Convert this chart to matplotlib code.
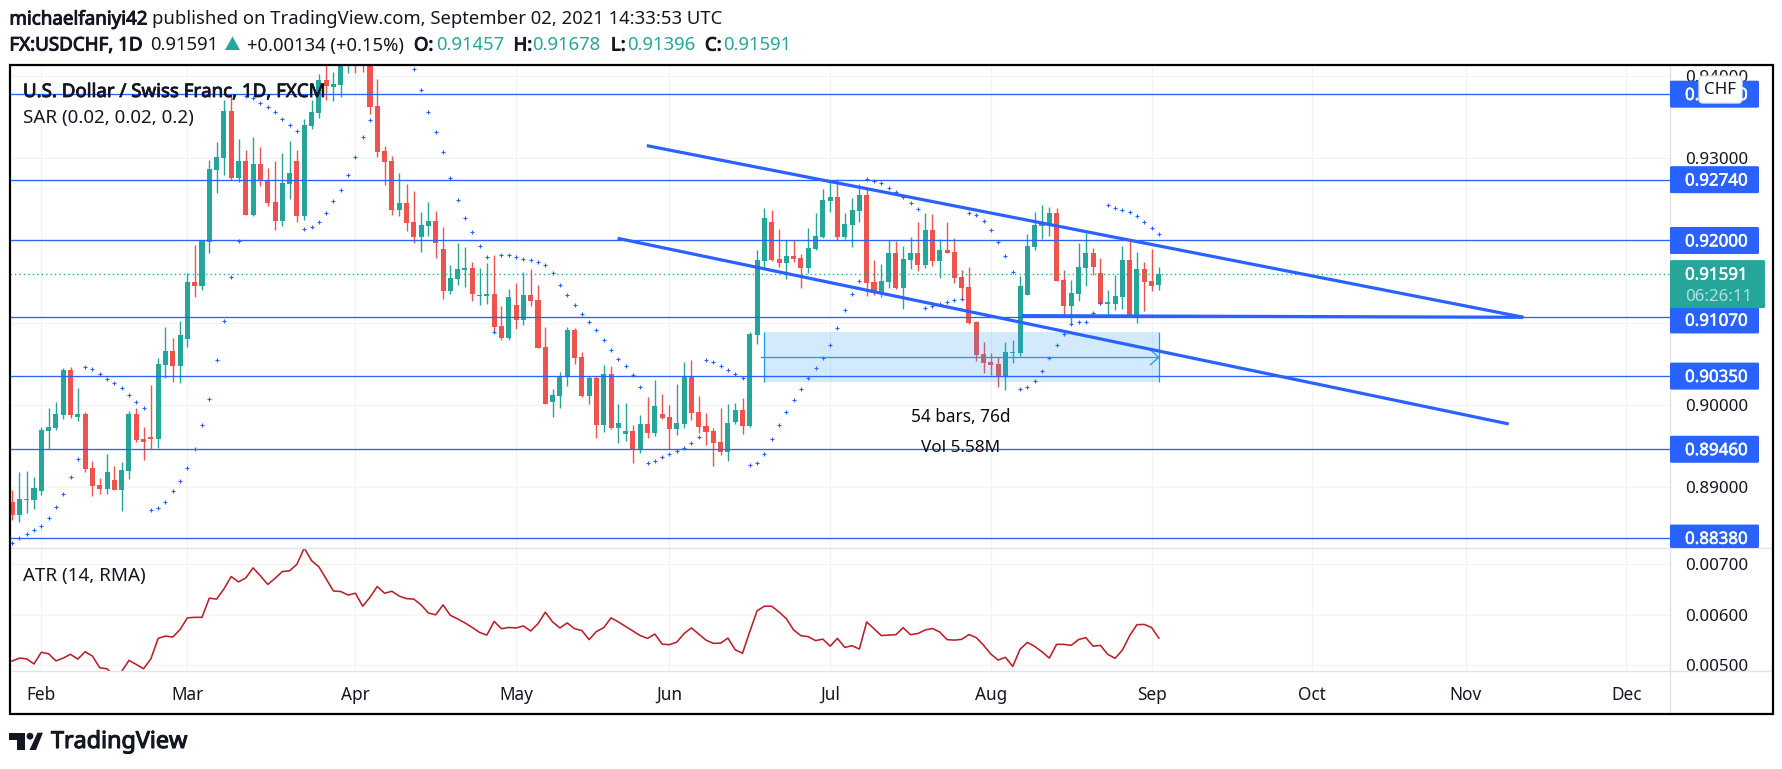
import matplotlib
matplotlib.use("Agg")
import matplotlib.pyplot as plt
import matplotlib.patheffects as pe
import numpy as np
from matplotlib.patches import Rectangle, FancyBboxPatch, Polygon, Circle

plt.rcParams['font.family'] = ['Noto Sans', 'DejaVu Sans']

# ---- data (prices in 1e-5 units) ----
first_bar = -4
opens = [88819,88661,88844,88844,88953,89683,89720,89878,90425,89854,89890,89233,89026,88978,89087,88965,89197,89890,89586,89610,
 89586,90486,90656,90474,90802,91496,91447,91982,92858,93004,93576,92761,92968,92311,92931,92737,92469,92238,92688,92968,
 92299,93393,93552,93953,93868,93892,94200,94500,94450,94250,93637,93089,92968,92372,92457,92226,92043,92177,92238,91897,
 91386,91532,91642,91666,91325,91325,91350,90960,90815,91216,91033,91338,91277,90705,90036,90109,90348,90912,90583,90109,
 90328,89756,90377,89720,89647,89683,89460,89768,89659,89890,89854,89707,89768,90340,89914,89744,89683,89549,89428,89793,
 89939,89744,90851,91751,92226,91775,91727,91812,91788,91666,91897,92043,92481,92530,92043,92189,92359,92554,91496,91362,
 91496,91849,91423,91763,91849,91702,92128,91751,91885,91861,91557,91435,91009,90620,90522,90498,90352,90632,90632,91338,
 91922,92177,92177,92335,91520,91204,91350,91666,91849,91605,91228,91228,91313,91763,91058,91654,91508,91457]
highs = [88965,89184,89197,89123,89732,89963,90036,90450,90462,90206,89914,89318,89111,89403,89257,89306,89926,89963,89732,90243,
 90571,90948,90814,91021,91605,91946,92007,92980,93199,93710,93771,93235,93102,93260,93138,92883,92968,93065,93211,93102,
 93479,93710,94026,94250,94050,94400,94600,94650,94700,94400,93965,93150,93028,92822,92688,92603,92347,92469,92359,92165,
 91703,91970,91922,91739,91666,91727,91824,91204,91411,91484,91617,91654,91459,90948,90194,90401,90948,90936,90644,90348,
 90348,90486,90474,90012,90024,89756,89878,90097,90304,90133,90000,90255,90522,90547,90109,89902,89720,89963,90012,90024,
 90085,90887,91885,92396,92372,92140,92007,92007,91836,92153,92335,92627,92737,92745,92335,92522,92688,92627,91763,91715,
 92007,91995,91934,92043,92226,92335,92323,92019,92226,92031,91642,91678,91021,90766,90632,90583,90766,90790,91569,92080,
 92347,92432,92408,92396,91642,91520,91970,92092,91909,91788,91398,91581,91934,92007,91861,91739,91897,91678]
lows = [88600,88576,88686,88734,88905,89464,89695,89829,89841,89805,89184,88892,88917,88917,88965,88710,89099,89549,89330,89464,
 89476,90328,90279,90267,90705,91313,91398,91849,92578,92797,92737,92712,92311,92299,92664,92420,92128,92177,92505,92226,
 92250,93357,93491,93710,93698,93746,94038,94038,94050,93539,93016,92676,92311,92299,92116,91970,91861,92055,91788,91289,
 91350,91459,91435,91265,91216,91228,90871,90790,90790,90924,90973,91204,90693,90012,89854,89963,90231,90498,90097,90012,
 89598,89671,89707,89537,89561,89294,89415,89598,89622,89829,89460,89634,89720,89817,89659,89513,89257,89391,89318,89768,
 89647,89732,90741,91662,91751,91678,91532,91739,91423,91605,91885,92031,92347,92003,92019,91922,92226,91325,91338,91313,
 91423,91411,91167,91654,91630,91666,91690,91544,91849,91484,91277,90985,90535,90389,90364,90218,90182,90510,90596,91338,
 91885,92019,92055,91508,91082,90985,91265,91447,91581,91216,91094,91155,91167,91070,90997,91143,91386,91396]
closes = [88661,88856,88856,88990,89695,89732,89890,90425,89878,89890,89221,89014,88978,89184,88965,89209,89890,89574,89549,89586,
 90498,90656,90474,90851,91496,91447,91995,92870,93016,93576,92761,92968,92311,92931,92724,92457,92238,92700,92822,92299,
 93406,93564,93953,93880,93904,94250,94500,94200,94250,93625,93077,92956,92372,92457,92213,92043,92189,92238,91970,91386,
 91544,91654,91666,91350,91338,91350,90948,90815,91313,91033,91338,91265,90693,90012,90121,90348,90912,90571,90109,90328,
 89756,90377,89720,89780,89683,89460,89768,89659,89987,89841,89707,89780,90348,89902,89732,89671,89537,89428,89780,89939,
 89744,90863,91763,92274,91763,91727,91812,91775,91666,91909,92055,92493,92530,92043,92201,92372,92554,91484,91362,91508,
 91849,91423,91775,91849,91702,92128,91751,91885,91849,91544,91423,90997,90608,90510,90486,90352,90644,90644,91447,91934,
 92189,92201,92335,91508,91204,91362,91678,91849,91678,91228,91252,91325,91763,91082,91654,91496,91447,91591]
sar = [88317,88377,88426,88475,88523,88621,88755,88913,89120,89338,90458,90433,90372,90312,90263,90202,90117,90032,89959,88718,
 88742,88815,88949,89071,89229,89460,89752,90068,90543,91017,91552,91990,93754,93730,93669,93621,93560,93475,93402,93329,
 92136,92161,92222,92331,92477,92611,92793,93012,93256,93462,94900,94800,94650,94500,94300,94083,93827,93560,93316,93073,
 92757,92489,92270,92100,91930,91796,90883,91820,91820,91796,91771,91759,91735,91698,91601,91455,91333,91212,91102,91005,
 90908,90786,90664,90555,90470,90360,90214,89298,89314,89363,89399,89436,89472,89533,89606,90543,90518,90470,90421,90372,
 90324,89265,89290,89399,89582,89752,89910,90056,90190,90324,90445,90567,90725,90932,91151,91346,91504,92745,92720,92696,
 92635,92586,92526,92453,92380,91175,91200,91224,91248,91273,91285,92331,92307,92234,92124,91978,91808,91613,90190,90214,
 90287,90409,90567,90725,90859,90981,91005,91005,91115,91236,92428,92392,92368,92343,92295,92222,92149,92076]
atr = [508.6,514.5,513,503,526,523,509,514.5,522,512.5,527,518.5,495.4,493.4,478,488,510,502,493.4,513,
 553.5,558,556,571,594,595,595,633,631,651,675.6,665,673,692.7,677,660,672,685.5,687,700,
 732,707,695,671,647,646,639,642.6,617,634.6,656,642.6,646.5,637,632,631,619.5,603.6,600,619.5,
 599,592,584,575,565.3,560,587,572.6,575,574,578,568,582.5,605,586,574,584,572.6,569,551,
 567,574.6,594,586,577,568,559,553.5,562,542,541,546,563,574,562,550,543.6,544,554,531,
 524,567,608,617,617,605.6,592.4,570,558.7,556.8,549,552,538,553.5,535.6,539,532.3,586,572.6,559,
 560,560.7,574.6,560.7,563,570,573,566,551,550,551.5,561,555,540,522.4,510.6,516,498,532,545.5,
 537.6,527,514.5,541.6,541.6,539.6,551,555,538,539.6,522,514,530,558.7,580.5,581,575,554]

levels = [0.9378, 0.9274, 0.9200, 0.9107, 0.9035, 0.8946, 0.8838]
level_labels = ['0.93780', '0.92740', '0.92000', '0.91070', '0.90350', '0.89460', '0.88380']
level_tag_shift = [0, 0, 0, 3, 0, 0, 0]
last_price = 0.91591

price_ticks = [0.89, 0.90, 0.91, 0.92, 0.93, 0.94]
atr_ticks = [0.005, 0.006, 0.007]
month_pos = [0, 20, 43, 65, 86, 108, 130, 152, 174, 195, 217]
month_labels = ['Feb', 'Mar', 'Apr', 'May', 'Jun', 'Jul', 'Aug', 'Sep', 'Oct', 'Nov', 'Dec']

channel_upper = ([82.9, 202.9], [0.93154, 0.91066])
channel_lower = ([78.9, 200.9], [0.92027, 0.89768])
support = ([134.2, 202.9], [0.91086, 0.91066])
range_box = (99, 153, 0.90283, 0.90891, 0.90579)

# ---- colours ----
UP, DOWN = '#26a69a', '#ef5350'
BLUE, RANGE = '#2962ff', '#2196f3'
INK, GRID, AXIS = '#131722', '#f1f2f4', '#e0e3eb'
W, H = 1783, 769

def heavy(color, w=0.55):
    return [pe.withStroke(linewidth=w, foreground=color)]

o = np.array(opens) / 1e5
h = np.array(highs) / 1e5
l = np.array(lows) / 1e5
c = np.array(closes) / 1e5
s = np.array(sar) / 1e5
a = np.array(atr) / 1e5
x = np.arange(first_bar, first_bar + len(o))

fig = plt.figure(figsize=(W / 100, H / 100), dpi=100, facecolor='white')

def axbox(x0, y0, x1, y1):
    return [x0 / W, 1 - y1 / H, (x1 - x0) / W, (y1 - y0) / H]

ax = fig.add_axes(axbox(10, 65, 1670, 548), zorder=1)
ax2 = fig.add_axes(axbox(10, 548, 1670, 671), zorder=1)
ov = fig.add_axes([0, 0, 1, 1], zorder=5)
ov.set_xlim(0, W); ov.set_ylim(H, 0); ov.axis('off'); ov.patch.set_alpha(0)

XL = (-4.285, 222.98)
ax.set_xlim(*XL); ax.set_ylim(0.88259, 0.94135)
ax2.set_xlim(*XL); ax2.set_ylim(0.00489, 0.00732)

for A, ticks in ((ax, price_ticks), (ax2, atr_ticks)):
    for sp in A.spines.values():
        sp.set_visible(False)
    A.yaxis.tick_right()
    A.set_yticks(ticks)
    A.set_yticklabels(['{:.5f}'.format(t) for t in ticks], fontsize=12.2, color=INK)
    A.tick_params(axis='y', length=0, pad=10.8)
    A.set_xticks(month_pos)
    A.grid(True, color=GRID, lw=0.8, zorder=0)
    A.set_axisbelow(True)
ax.tick_params(axis='x', length=0, labelbottom=False)
ax2.set_xticklabels(month_labels, fontsize=12.4, color=INK)
ax2.tick_params(axis='x', length=0, pad=10.5)

# candles
cols = [UP if cc >= oo else DOWN for oo, cc in zip(o, c)]
ax.vlines(x, l, h, colors=cols, lw=1.0, zorder=2)
ax.bar(x, np.maximum(np.abs(c - o), 0.00012), bottom=np.minimum(o, c), width=0.69,
       color=cols, linewidth=0, zorder=2.1)
# parabolic SAR
ax.plot(x, s, ls='none', marker='+', ms=2.8, mew=0.8, color=BLUE, zorder=3)
# range box
x0, x1, y0, y1, ym = range_box
ax.add_patch(Rectangle((x0, y0), x1 - x0, y1 - y0, fc=RANGE, alpha=0.2, lw=0, zorder=3.5))
ax.vlines([x0, x1], y0, y1, colors=RANGE, lw=0.9, zorder=3.6)
ax.plot([x0 - 0.45, x1], [ym, ym], color=RANGE, lw=0.9, zorder=3.6)
ax.plot([x1 - 1.15, x1, x1 - 1.15], [ym + 0.0009, ym, ym - 0.0009], color=RANGE, lw=0.9, zorder=3.6)
# levels and trend lines
ax.hlines(levels, XL[0], XL[1], colors=BLUE, lw=0.95, zorder=4)
ax.axhline(last_price, color=UP, lw=1.0, ls=(0, (1, 2.2)), zorder=4)
for xs, ys in (channel_upper, channel_lower, support):
    ax.plot(xs, ys, color=BLUE, lw=2.3, solid_capstyle='butt', zorder=5)
# ATR
ax2.plot(x, a, color='#b9202a', lw=1.15, zorder=3)

fig.canvas.draw()
def py(A, v):
    return H - A.transData.transform((0, v))[1]

# frame and separators
ov.plot([1670, 1670], [65, 714], color=AXIS, lw=1.0)
ov.plot([10, 1773], [548, 548], color=AXIS, lw=1.0)
ov.plot([10, 1773], [671, 671], color=AXIS, lw=1.0)
ov.add_patch(Rectangle((10, 65), 1763, 649, fill=False, ec='black', lw=1.6, zorder=9))

# level tags
for v, lab, sh in zip(levels, level_labels, level_tag_shift):
    yc = py(ax, v) + sh
    top, bot = yc - 13.5, min(yc + 13.5, 548)
    ov.add_patch(FancyBboxPatch((1670, top), 89, bot - top, boxstyle='round,pad=0,rounding_size=1.5',
                                fc=BLUE, ec='none', zorder=3))
    ov.text(1685, yc + 1.8, lab, color='white', fontsize=12.2, va='center', ha='left', zorder=4,
            path_effects=heavy('white', 0.4))
# last price tag
ylp = py(ax, last_price)
ov.add_patch(FancyBboxPatch((1670, ylp - 14), 95, 48, boxstyle='round,pad=0,rounding_size=1.5',
                            fc=UP, ec='none', zorder=5))
ov.text(1685, ylp + 1.5, '0.91591', color='white', fontsize=12.2, va='center', zorder=6,
        path_effects=heavy('white', 0.4))
ov.text(1685, ylp + 23, '06:26:11', color='white', alpha=0.65, fontsize=12.2, va='center', zorder=6)
# currency badge
ov.add_patch(FancyBboxPatch((1699, 76), 43, 27, boxstyle='round,pad=0,rounding_size=4',
                            fc='white', ec=AXIS, lw=1, zorder=7))
ov.text(1720.5, 90.5, 'CHF', color=INK, fontsize=12.2, ha='center', va='center', zorder=8)

# pane legends
ov.text(23, 92, 'U.S. Dollar / Swiss Franc, 1D, FXCM', color=INK, fontsize=13.45, va='center', zorder=6,
        path_effects=heavy(INK, 0.6))
ov.text(23, 118.5, 'SAR (0.02, 0.02, 0.2)', color=INK, fontsize=13.5, va='center', zorder=6)
ov.text(23, 575.5, 'ATR (14, RMA)', color=INK, fontsize=13.5, va='center', zorder=6)
ov.text(961, 417, '54 bars, 76d', color='#0b0e14', fontsize=12.4, ha='center', va='center', zorder=6)
ov.text(961, 448, 'Vol 5.58M', color='#0b0e14', fontsize=12.3, ha='center', va='center', zorder=6)

# header
ov.text(9.4, 19.5, 'michaelfaniyi42', color=INK, fontsize=13.5, va='center', path_effects=heavy(INK, 0.7))
ov.text(152.5, 19.5, 'published on TradingView.com, September 02, 2021 14:33:53 UTC', color=INK, fontsize=13.3, va='center')
ov.text(9.4, 45.5, 'FX:USDCHF, 1D', color=INK, fontsize=13.5, va='center', path_effects=heavy(INK, 0.7))
ov.text(150.5, 45.5, '0.91591', color=INK, fontsize=13.3, va='center')
ov.add_patch(Polygon([(225, 50), (240, 50), (232.5, 36.5)], fc=UP, ec='none'))
ov.text(247, 45.5, '+0.00134 (+0.15%)', color=INK, fontsize=13.3, va='center')
for xl, lab, xv, val in ((414, 'O:', 435.7, '0.91457'), (513.6, 'H:', 532.4, '0.91678'),
                         (611, 'L:', 627, '0.91396'), (705, 'C:', 722.8, '0.91591')):
    ov.text(xl, 45.5, lab, color=INK, fontsize=13.3, va='center', path_effects=heavy(INK, 0.7))
    ov.text(xv, 45.5, val, color=UP, fontsize=13.3, va='center')

# TradingView logo
ov.add_patch(Polygon([(9.2, 732.7), (25, 732.7), (25, 750), (17.4, 750), (17.4, 739.5), (9.2, 739.5)], fc=INK, ec='none'))
ov.add_patch(Circle((30, 736.2), 3.4, fc=INK, ec='none'))
ov.add_patch(Polygon([(37.5, 732.7), (42.9, 732.7), (36, 750), (29.5, 750)], fc=INK, ec='none'))
ov.text(51, 742, 'TradingView', color=INK, fontsize=16.8, va='center', path_effects=heavy(INK, 0.8))

fig.savefig('out.png', dpi=100)
